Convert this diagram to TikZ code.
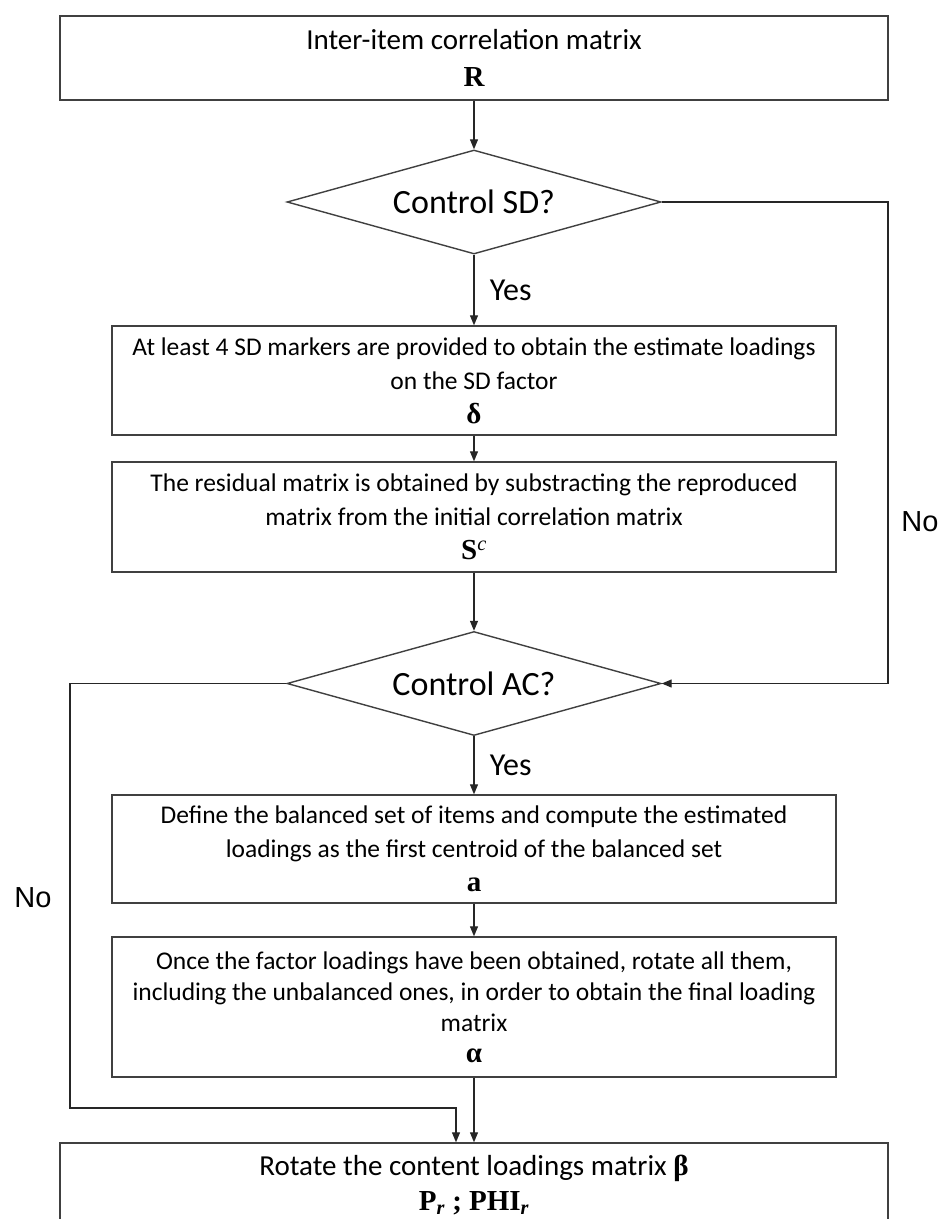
\documentclass[tikz,border=0pt]{standalone}
\usepackage{fontspec}
\setmainfont{Carlito}
\newfontfamily\arialfont{Liberation Sans}
\newfontfamily\symf{Liberation Serif}
\newcommand{\mysym}[1]{{\symf\bfseries\fontsize{29}{34}\selectfont #1}}
\usetikzlibrary{shapes.geometric,arrows.meta}
\begin{document}
\begin{tikzpicture}[x=1pt,y=-1pt,
  box/.style={draw=black!75, line width=1.4pt, rectangle, inner sep=0pt, align=center,
    font=\fontsize{25.5}{34}\selectfont, minimum width=724pt},
  bigbox/.style={box, minimum width=828pt, minimum height=84pt, font=\fontsize{29}{37}\selectfont},
  decision/.style={draw=black!75, line width=1.4pt, diamond, minimum width=374pt,
    minimum height=104pt, inner sep=0pt, aspect=3.6, font=\fontsize{34}{40}\selectfont},
  conn/.style={draw=black!85, line width=1.2pt, -{Triangle[length=10pt,width=8pt]}},
  lbl/.style={font=\fontsize{32}{36}\selectfont},
  nolbl/.style={font=\arialfont\fontsize{29}{32}\selectfont}
]
\useasboundingbox (0,0) rectangle (942,1219);
\fill[white] (0,0) rectangle (942,1219);

\node[bigbox] (top) at (474,58) {Inter-item correlation matrix\\ \mysym{R}};
\node[decision] (sd) at (474,202) {Control SD?};
\node[box, minimum height=109pt] (sdm) at (474,380.5)
  {At least 4 SD markers are provided to obtain the estimate loadings\\ on the SD factor\\ \mysym{δ}};
\node[box, minimum height=110pt] (res) at (474,517)
  {The residual matrix is obtained by substracting the reproduced\\ matrix from the initial correlation matrix\\ \mysym{S\textsuperscript{\itshape\mdseries c}}};
\node[decision] (ac) at (474,683.5) {Control AC?};
\node[box, minimum height=108pt] (bal) at (474,849)
  {Define the balanced set of items and compute the estimated\\ loadings as the first centroid of the balanced set\\ \mysym{a}};
\node[box, minimum height=140pt, font=\fontsize{25.5}{31}\selectfont] (rot) at (474,1007)
  {Once the factor loadings have been obtained, rotate all them,\\ including the unbalanced ones, in order to obtain the final loading\\ matrix\\ \mysym{α}};
\node[bigbox, font=\fontsize{29}{35}\selectfont] (fin) at (474,1185)
  {Rotate the content loadings matrix \mysym{β}\\ \mysym{P\textsubscript{\itshape r} ; PHI\textsubscript{\itshape r}}};

\coordinate (rx) at (888,0);
\coordinate (lx) at (70,0);
\coordinate (jy) at (0,1108);
\coordinate (ex) at (456,0);

\draw[conn] (top) -- (sd);
\draw[conn] (sd) -- node[lbl, anchor=west, xshift=12pt] (yes1) {Yes} (sdm);
\draw[conn] (sdm) -- (res);
\draw[conn] (res) -- (ac);
\draw[conn] (sd.east) -- (sd.east -| rx) -- (ac.east -| rx) -- (ac.east);
\draw[conn] (ac) -- node[lbl, anchor=west, xshift=12pt] (yes2) {Yes} (bal);
\draw[conn] (bal) -- (rot);
\draw[conn] (rot) -- (fin);
\draw[conn] (ac.west) -- (ac.west -| lx) -- (lx |- jy) -- (ex |- jy) -- (ex |- fin.north);

\node[nolbl] (no1) at (920,522) {No};
\node[nolbl] (no2) at (33,898) {No};
\end{tikzpicture}
\end{document}
